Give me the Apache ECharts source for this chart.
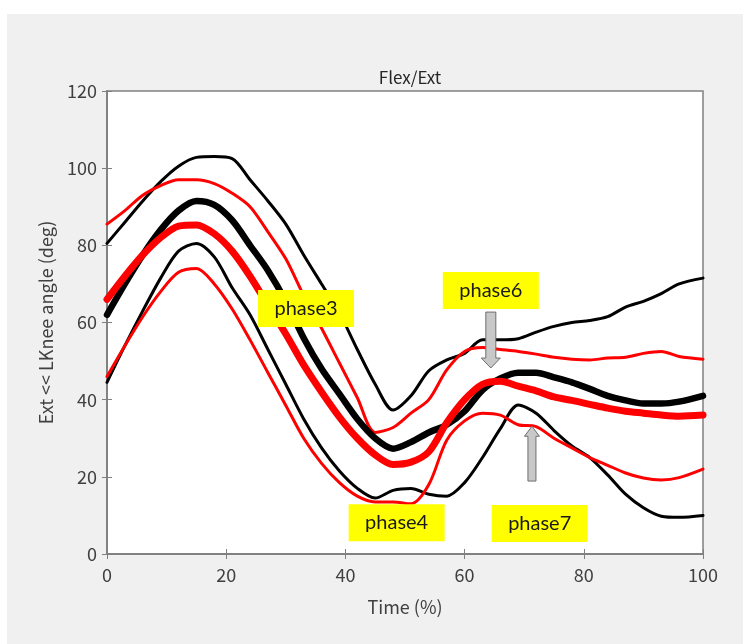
<!DOCTYPE html>
<html>
<head>
<meta charset="utf-8">
<script src="https://cdn.jsdelivr.net/npm/echarts@6/dist/echarts.min.js"></script>
<style>
  html, body { margin: 0; padding: 0; background: #ffffff; }
  #main { width: 748px; height: 644px; }
</style>
</head>
<body>
<div id="main"></div>
<script>
// time axis (%) shared by all curves
var timePts = [0, 3, 6, 9, 12, 15, 18, 21, 24, 27, 30, 33, 36, 39, 42, 45, 48, 51, 54, 57, 60, 63, 66, 69, 72, 75, 78, 81, 84, 87, 90, 93, 96, 100];

// black group: mean, +sd, -sd
var blackMean = [62, 70, 77.5, 84, 89, 91.5, 90.5, 86.5, 80, 73.5, 65.5, 56, 48, 41.5, 35, 30, 27.3, 29, 31.5, 33.5, 37, 42.5, 45.5, 47, 47, 45.8, 44.5, 42.8, 41, 39.8, 39, 39, 39.5, 41];
var blackUpper = [80.5, 86, 91.5, 96.5, 100.5, 102.8, 103, 102.5, 97, 91.5, 85.5, 77.5, 70, 62.5, 53, 44, 37.3, 41, 47.5, 50.3, 52, 55.5, 55.5, 55.8, 57.5, 59, 60, 60.5, 61.5, 64, 65.5, 67.5, 70, 71.5];
var blackLower = [44.5, 54, 63, 71.5, 78.5, 80.5, 77, 69, 62, 53, 44, 35, 27.5, 21.5, 17, 14.5, 16.5, 17, 15.5, 15, 18.5, 25, 32.5, 38.6, 36.5, 32, 28, 25, 20.5, 15.5, 12, 9.8, 9.5, 10];

// red group: mean, +sd, -sd
var redMean = [66, 72, 77.5, 82, 85, 85.3, 83, 78.5, 72, 64.5, 57, 49, 42, 35.5, 30, 25.7, 23.2, 23.8, 26.5, 34, 40, 44, 44.8, 43.5, 42.3, 40.7, 39.8, 38.8, 37.8, 37, 36.5, 36, 35.7, 36];
var redUpper = [85.5, 89, 93, 95.5, 97, 97, 96, 93.5, 90, 83.5, 76.5, 67, 58.5, 49.5, 40.5, 31.5, 32.8, 36.5, 40, 47.7, 52.5, 53.5, 53, 52.5, 51.8, 51, 50.5, 50.3, 50.8, 51, 52, 52.5, 51.2, 50.5];
var redLower = [46, 54, 61.5, 68, 73, 74, 70, 63.5, 55.5, 47, 38.5, 30, 23.5, 18.5, 15, 13.5, 13.5, 13, 18, 29.5, 34.5, 36.5, 36, 33.5, 33, 30, 27.5, 25, 23, 21, 19.7, 19.2, 19.8, 22];

var xTicks = [0, 20, 40, 60, 80, 100];
var yTicks = [0, 20, 40, 60, 80, 100, 120];

// phase annotations in data coordinates
var phaseNames = ['phase3', 'phase6', 'phase4', 'phase7'];
var phaseT = [33.4, 64.4, 48.6, 72.6];
var phaseV = [63.6, 68.3, 8.1, 7.9];

var chart = echarts.init(document.getElementById('main'));

function pairs(ys) {
    return timePts.map(function (t, i) { return [t, ys[i]]; });
}

function line(name, ys, color, width, z) {
    return {
        name: name,
        type: 'line',
        data: pairs(ys),
        smooth: 0.3,
        showSymbol: false,
        z: z,
        lineStyle: { color: color, width: width, cap: 'round', join: 'round' }
    };
}

var tickFont = { fontFamily: 'Noto Sans CJK JP', fontSize: 18, color: '#404040' };
var frame = { lineStyle: { color: '#808080', width: 1.5 } };

option = {
    backgroundColor: '#ffffff',
    animation: false,
    title: {
        text: 'Flex/Ext',
        left: 405,
        top: 64,
        textAlign: 'center',
        textStyle: { fontFamily: 'Noto Sans CJK JP', fontSize: 17, fontWeight: 'normal', color: '#262626' }
    },
    grid: {
        left: 107, right: 45, top: 91, bottom: 90,
        show: true, backgroundColor: '#ffffff', borderColor: '#808080', borderWidth: 1.5
    },
    xAxis: [{
        type: 'value', min: 0, max: 100, interval: 20,
        name: 'Time (%)', nameLocation: 'middle', nameGap: 44,
        nameTextStyle: tickFont,
        axisLine: frame,
        axisTick: { inside: true, length: 5, lineStyle: { color: '#808080' } },
        axisLabel: Object.assign({ margin: 12 }, tickFont),
        splitLine: { show: false }
    }, {
        type: 'value', position: 'top', min: 0, max: 100, interval: 20,
        axisLine: frame,
        axisTick: { inside: true, length: 5, lineStyle: { color: '#808080' } },
        axisLabel: { show: false },
        splitLine: { show: false }
    }],
    yAxis: [{
        type: 'value', min: 0, max: 120, interval: 20,
        name: 'Ext << LKnee angle (deg)', nameLocation: 'middle', nameGap: 52,
        nameTextStyle: tickFont,
        axisLine: frame,
        axisTick: { inside: true, length: 5, lineStyle: { color: '#808080' } },
        axisLabel: Object.assign({ margin: 10 }, tickFont),
        splitLine: { show: false }
    }, {
        type: 'value', position: 'right', min: 0, max: 120, interval: 20,
        axisLine: frame,
        axisTick: { inside: true, length: 5, lineStyle: { color: '#808080' } },
        axisLabel: { show: false },
        splitLine: { show: false }
    }],
    series: [
        line('black +sd', blackUpper, '#000000', 3, 2),
        line('black -sd', blackLower, '#000000', 3, 2),
        line('red +sd', redUpper, '#ff0000', 3, 3),
        line('red -sd', redLower, '#ff0000', 3, 3),
        line('black mean', blackMean, '#000000', 6.5, 4),
        line('red mean', redMean, '#ff0000', 7, 5)
    ]
};
chart.setOption(option);

// annotation boxes and arrows, placed from data coordinates
function px(t, v) {
    return chart.convertToPixel({ xAxisIndex: 0, yAxisIndex: 0 }, [t, v]);
}

var gfx = [{
    type: 'rect', z: -10, silent: true,
    shape: { x: 7, y: 14, width: 736, height: 640 },
    style: { fill: '#f0f0f0' }
}];

phaseNames.forEach(function (name, i) {
    var c = px(phaseT[i], phaseV[i]);
    gfx.push({
        type: 'rect', z: 100,
        shape: { x: c[0] - 48, y: c[1] - 18.5, width: 96, height: 37 },
        style: { fill: '#ffff00' }
    });
    gfx.push({
        type: 'text', z: 101,
        x: c[0], y: c[1],
        style: {
            text: name, fill: '#1a1a1a', font: '20px Lato',
            align: 'center', verticalAlign: 'middle'
        }
    });
});

function arrow(tx, ty, bx, by, shaftW, headW, headH) {
    var tip = px(tx, ty), base = px(bx, by);
    var dir = tip[1] > base[1] ? 1 : -1;
    var hy = tip[1] - dir * headH;
    var x = tip[0];
    return {
        type: 'polygon', z: 100,
        shape: {
            points: [
                [x - shaftW / 2, base[1]], [x + shaftW / 2, base[1]],
                [x + shaftW / 2, hy], [x + headW / 2, hy],
                [x, tip[1]],
                [x - headW / 2, hy], [x - shaftW / 2, hy]
            ]
        },
        style: { fill: '#c8c8c8', stroke: '#6e6e6e', lineWidth: 1 }
    };
}

gfx.push(arrow(64.4, 48.2, 64.4, 62.7, 10, 19, 10));
gfx.push(arrow(71.3, 33.1, 71.3, 18.9, 8, 15, 10));

chart.setOption({ graphic: gfx });
</script>
</body>
</html>
